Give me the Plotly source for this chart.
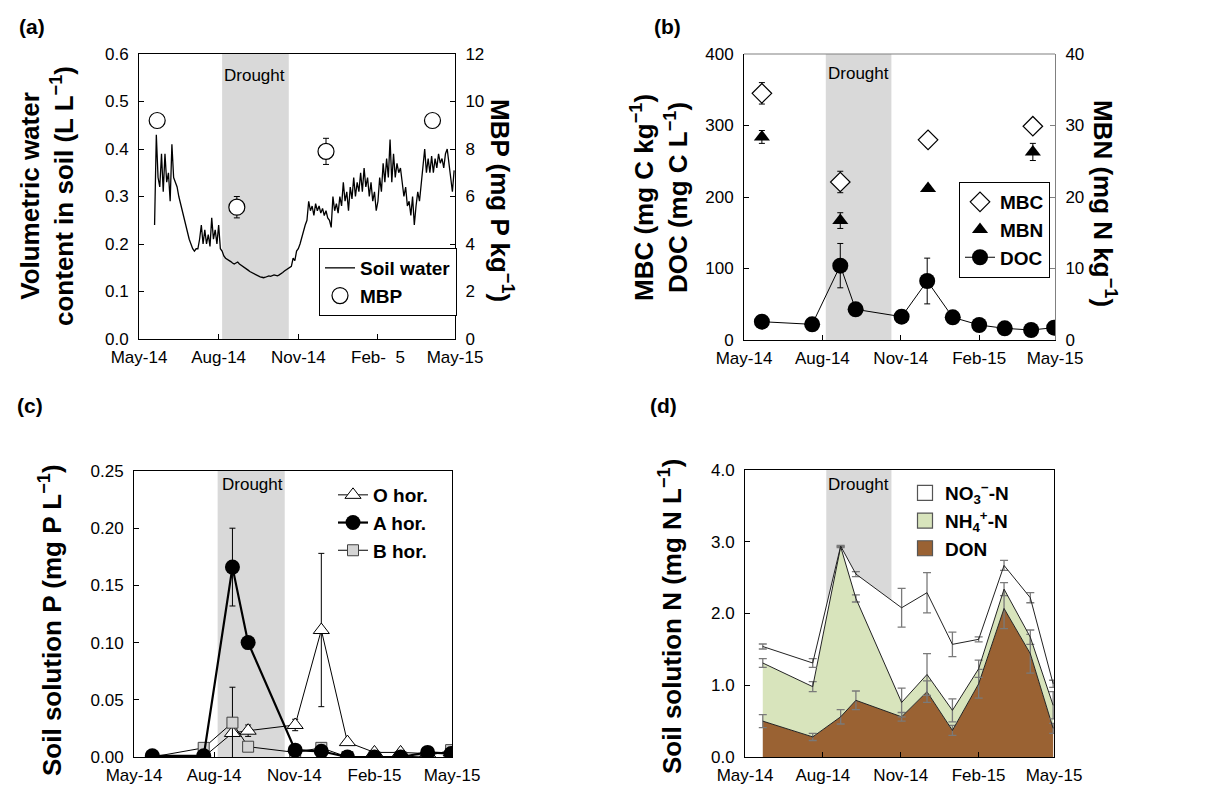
import plotly.graph_objects as go
import pandas as pd
import numpy as np

W, H = 1215, 788
OFF = 8  # page body margin in the browser
FONT = "Liberation Sans, Arial, sans-serif"

# ---------------- data ----------------
x_range = ["2014-05-01", "2015-05-01"]
tick_dates = ["2014-05-01", "2014-08-01", "2014-11-01", "2015-02-01", "2015-05-01"]
tick_text_a = ["May-14", "Aug-14", "Nov-14", "Feb-  5", "May-15"]
tick_text = ["May-14", "Aug-14", "Nov-14", "Feb-15", "May-15"]
drought = ["2014-08-05", "2014-10-21"]

# Panel (a): volumetric soil water content, every 2 days from 19 May 2014
soil_water_start = "2014-05-19"
soil_water = [
    0.24, 0.43, 0.34, 0.32, 0.39, 0.31, 0.39, 0.33, 0.35, 0.29,
    0.41, 0.34, 0.33, 0.32, 0.30, 0.285, 0.27, 0.25, 0.235, 0.22,
    0.21, 0.20, 0.19, 0.185, 0.19, 0.19, 0.21, 0.24, 0.20, 0.23,
    0.20, 0.22, 0.195, 0.255, 0.21, 0.23, 0.20, 0.24, 0.19, 0.185,
    0.175, 0.17, 0.168, 0.165, 0.163, 0.16, 0.158, 0.16, 0.162, 0.158,
    0.155, 0.152, 0.15, 0.147, 0.145, 0.142, 0.14, 0.138, 0.136, 0.134,
    0.132, 0.131, 0.13, 0.129, 0.13, 0.131, 0.133, 0.132, 0.134, 0.135,
    0.134, 0.133, 0.135, 0.137, 0.14, 0.143, 0.146, 0.148, 0.15, 0.153,
    0.17, 0.165, 0.185, 0.19, 0.20, 0.215, 0.23, 0.24, 0.25, 0.29,
    0.27, 0.28, 0.26, 0.285, 0.27, 0.28, 0.265, 0.275, 0.26, 0.27,
    0.255, 0.25, 0.235, 0.30, 0.27, 0.285, 0.265, 0.30, 0.28, 0.33,
    0.29, 0.31, 0.27, 0.32, 0.295, 0.34, 0.30, 0.33, 0.31, 0.35,
    0.31, 0.36, 0.32, 0.34, 0.30, 0.33, 0.29, 0.31, 0.27, 0.29,
    0.34, 0.31, 0.37, 0.33, 0.38, 0.34, 0.42, 0.33, 0.39, 0.34,
    0.37, 0.35, 0.36, 0.33, 0.30, 0.32, 0.28, 0.29, 0.26, 0.30,
    0.24, 0.28, 0.31, 0.29, 0.33, 0.36, 0.40, 0.35, 0.38, 0.35,
    0.385, 0.35, 0.38, 0.36, 0.39, 0.37, 0.38, 0.36, 0.39, 0.40,
    0.37, 0.33, 0.31, 0.355,
]
mb_dates = ["2014-05-22", "2014-08-22", "2014-12-03", "2015-04-05"]
mbp = [9.2, 5.55, 7.9, 9.2]
mbp_err = [0.0, 0.45, 0.55, 0.0]

# Panel (b)
mbc = [345, 221, 280, 299]
mbc_err = [15, 15, 10, 3]
mbn = [28.4, 16.7, 21.2, 26.3]
mbn_err = [0.9, 1.1, 0.4, 1.2]
sample_dates = ["2014-05-22", "2014-07-20", "2014-08-22", "2014-09-09", "2014-11-02",
                "2014-12-02", "2015-01-01", "2015-02-01", "2015-03-03", "2015-04-03",
                "2015-04-30"]
doc = [25.6, 21.9, 104, 42.9, 32.6, 82.5, 31.7, 21, 16.3, 14, 17.2]
doc_err = [0, 0, 31, 0, 0, 32, 0, 0, 0, 0, 0]

# Panel (c)
p_o = [0.000, 0.000, 0.021, 0.023, 0.028, 0.111, 0.013, 0.004, 0.004, 0.003, 0.004]
p_o_err = [0, 0, 0, 0.005, 0.005, 0.067, 0.002, 0, 0, 0, 0]
p_a = [0.001, 0.001, 0.166, 0.100, 0.006, 0.005, 0.000, 0.000, 0.000, 0.004, 0.003]
p_a_err = [0, 0, 0.034, 0, 0, 0, 0, 0, 0, 0, 0]
p_b = [0.000, 0.008, 0.030, 0.009, 0.004, 0.008, 0.000, 0.000, 0.000, 0.001, 0.006]
p_b_err = [0, 0, 0.031, 0, 0, 0, 0, 0, 0, 0, 0]

# Panel (d): components (stacked)
don = [0.50, 0.28, 0.56, 0.79, 0.56, 0.91, 0.37, 1.02, 2.07, 1.44, 0.40]
nh4 = [0.81, 0.70, 2.37, 1.42, 0.20, 0.24, 0.28, 0.21, 0.27, 0.23, 0.32]
no3 = [0.23, 0.33, 0.01, 0.34, 1.32, 1.14, 0.92, 0.41, 0.33, 0.55, 0.30]
don_err = [0.09, 0.05, 0.10, 0.13, 0.06, 0.15, 0.07, 0.20, 0.28, 0.27, 0.07]
nh4_err = [0.06, 0.07, 0.01, 0.05, 0.20, 0.29, 0.16, 0.12, 0.09, 0.10, 0.19]
no3_err = [0.035, 0.06, 0.01, 0.035, 0.27, 0.28, 0.17, 0.035, 0.07, 0.07, 0.05]

DON_COLOR = "#9a6233"
NH4_COLOR = "#d8e4bc"
NO3_COLOR = "white"

# ---------------- helpers ----------------
def px(x):
    return (x - OFF) / W

def py(y):
    return 1 - (y - OFF) / H

def xaxis(x0, x1, anchor, ttext, mirror=True):
    return dict(domain=[px(x0), px(x1)], anchor=anchor, type="date", range=x_range,
                tickmode="array", tickvals=tick_dates, ticktext=ttext,
                ticks="inside", ticklen=5, tickcolor="black", showline=True,
                linecolor="black", linewidth=1, mirror=mirror, showgrid=False,
                zeroline=False, automargin=False, ticklabelstandoff=3,
                tickfont=dict(family=FONT, size=17, color="black"))

def yaxis(y0, y1, anchor, rng, dtick, fmt, side="left", overlaying=None, mirror=True, lc="black"):
    d = dict(domain=[py(y1), py(y0)], anchor=anchor, range=rng, dtick=dtick, tickformat=fmt,
             ticks="inside", ticklen=5, tickcolor=lc, showline=True, linecolor=lc,
             linewidth=1, mirror=mirror, showgrid=False, zeroline=False, side=side,
             ticklabelstandoff=6, automargin=False,
             tickfont=dict(family=FONT, size=17, color="black"))
    if overlaying:
        d["overlaying"] = overlaying
    return d

fig = go.Figure()

# ---------------- panel (a) ----------------
sw_dates = pd.date_range(soil_water_start, periods=len(soil_water), freq="2D")
fig.add_trace(go.Scatter(x=sw_dates, y=soil_water, mode="lines", name="<b>Soil water</b>",
                         line=dict(color="black", width=1.3), xaxis="x", yaxis="y",
                         legend="legend", legendrank=1))
fig.add_trace(go.Scatter(x=mb_dates, y=mbp, mode="markers", name="<b>MBP</b>",
                         marker=dict(symbol="circle", size=16, color="white",
                                     line=dict(color="black", width=1.2)),
                         error_y=dict(type="data", array=mbp_err, color="black",
                                      thickness=1, width=3),
                         xaxis="x", yaxis="y2", legend="legend", legendrank=2))

# ---------------- panel (b) ----------------
fig.add_trace(go.Scatter(x=mb_dates, y=mbc, mode="markers", name="<b>MBC</b>",
                         marker=dict(symbol="diamond", size=15, color="white",
                                     line=dict(color="black", width=1.2)),
                         error_y=dict(type="data", array=mbc_err, color="black",
                                      thickness=1, width=3),
                         xaxis="x2", yaxis="y3", legend="legend2", legendrank=1))
fig.add_trace(go.Scatter(x=mb_dates, y=mbn, mode="markers", name="<b>MBN</b>",
                         marker=dict(symbol="triangle-up", size=14, color="black"),
                         error_y=dict(type="data", array=mbn_err, color="black",
                                      thickness=1, width=3),
                         xaxis="x2", yaxis="y4", legend="legend2", legendrank=2))
fig.add_trace(go.Scatter(x=sample_dates, y=doc, mode="lines+markers", name="<b>DOC</b>",
                         line=dict(color="black", width=1),
                         marker=dict(symbol="circle", size=16, color="black"),
                         error_y=dict(type="data", array=doc_err, color="black",
                                      thickness=1, width=3),
                         xaxis="x2", yaxis="y3", legend="legend2", legendrank=3))

# ---------------- panel (c) ----------------
fig.add_trace(go.Scatter(x=sample_dates, y=p_o, mode="lines+markers", name="<b>O hor.</b>",
                         line=dict(color="black", width=1),
                         marker=dict(symbol="triangle-up", size=14, color="white",
                                     line=dict(color="black", width=1)),
                         error_y=dict(type="data", array=p_o_err, color="black",
                                      thickness=1, width=3),
                         xaxis="x3", yaxis="y5", legend="legend3", legendrank=1))
fig.add_trace(go.Scatter(x=sample_dates, y=p_b, mode="lines+markers", name="<b>B hor.</b>",
                         line=dict(color="black", width=1),
                         marker=dict(symbol="square", size=11, color="#d4d4d4",
                                     line=dict(color="#404040", width=1)),
                         error_y=dict(type="data", array=p_b_err, color="black",
                                      thickness=1, width=3),
                         xaxis="x3", yaxis="y5", legend="legend3", legendrank=3))
fig.add_trace(go.Scatter(x=sample_dates, y=p_a, mode="lines+markers", name="<b>A hor.</b>",
                         line=dict(color="black", width=2.2),
                         marker=dict(symbol="circle", size=15, color="black"),
                         error_y=dict(type="data", array=p_a_err, color="black",
                                      thickness=1, width=3),
                         xaxis="x3", yaxis="y5", legend="legend3", legendrank=2))

# ---------------- panel (d) ----------------
c_don = np.array(don)
c_nh4 = c_don + np.array(nh4)
c_tot = c_nh4 + np.array(no3)
err_style = dict(type="data", color="#7a7a7a", thickness=1.3, width=4)
fig.add_trace(go.Scatter(x=sample_dates, y=c_don, mode="lines", showlegend=False,
                         fill="tozeroy", fillcolor=DON_COLOR,
                         line=dict(color="#222222", width=1),
                         error_y=dict(array=don_err, **err_style),
                         xaxis="x4", yaxis="y6"))
fig.add_trace(go.Scatter(x=sample_dates, y=c_nh4, mode="lines", showlegend=False,
                         fill="tonexty", fillcolor=NH4_COLOR,
                         line=dict(color="#222222", width=1),
                         error_y=dict(array=nh4_err, **err_style),
                         xaxis="x4", yaxis="y6"))
fig.add_trace(go.Scatter(x=sample_dates, y=c_tot, mode="lines", showlegend=False,
                         fill="tonexty", fillcolor=NO3_COLOR,
                         line=dict(color="#222222", width=1),
                         error_y=dict(array=no3_err, **err_style),
                         xaxis="x4", yaxis="y6"))
# legend-only swatches for panel (d)
for rank, (nm, col) in enumerate([("<b>NO<sub>3</sub><sup>−</sup>-N</b>", NO3_COLOR),
                                  ("<b>NH<sub>4</sub><sup>+</sup>-N</b>", NH4_COLOR),
                                  ("<b>DON</b>", DON_COLOR)], start=1):
    fig.add_trace(go.Scatter(x=[None], y=[None], mode="markers", name=nm,
                             marker=dict(symbol="square", size=15, color=col,
                                         line=dict(color="#555555", width=1.2)),
                             xaxis="x4", yaxis="y6", legend="legend4", legendrank=rank))

# ---------------- shapes ----------------
shapes = []
for xr, yr in [("x", "y"), ("x2", "y3"), ("x3", "y5"), ("x4", "y6")]:
    shapes.append(dict(type="rect", xref=xr, yref=yr + " domain", x0=drought[0], x1=drought[1],
                       y0=0, y1=1, fillcolor="#d9d9d9", line=dict(width=0), layer="below"))
# grey top border of panel (b)
shapes.append(dict(type="line", xref="x2 domain", yref="y3 domain", x0=0, x1=1, y0=1, y1=1,
                   line=dict(color="#808080", width=1.2)))

# ---------------- annotations ----------------
def ann(text, x, y, size, bold=False, angle=0, color="black"):
    return dict(text=text, x=px(x), y=py(y), xref="paper", yref="paper", showarrow=False,
                textangle=angle, xanchor="center", yanchor="middle",
                font=dict(family=FONT, size=size, color=color, weight="bold" if bold else "normal"))

annotations = [
    ann("(a)", 32, 26, 21, True),
    ann("(b)", 667, 26, 21, True),
    ann("(c)", 30, 405, 21, True),
    ann("(d)", 663, 405, 21, True),
    ann("Drought", 254, 75, 17),
    ann("Drought", 858, 73, 17),
    ann("Drought", 252, 485, 17),
    ann("Drought", 858, 485, 17),
    ann("Volumetric water<br>content in soil (L L<sup>−1</sup>)", 47, 196, 26, True, -90),
    ann("MBP (mg P kg<sup>−1</sup>)", 502, 200, 26, True, 90),
    ann("MBC (mg C kg<sup>−1</sup>)<br>DOC (mg C L<sup>−1</sup>)", 659, 198, 26, True, -90),
    ann("MBN (mg N kg<sup>−1</sup>)", 1104, 203, 26, True, 90),
    ann("Soil solution P (mg P L<sup>−1</sup>)", 50, 620, 26, True, -90),
    ann("Soil solution N (mg N L<sup>−1</sup>)", 670, 617, 26, True, -90),
]

leg_font = dict(family=FONT, size=19, color="black")

fig.update_layout(
    width=W, height=H, margin=dict(l=0, r=0, t=0, b=0, autoexpand=False),
    paper_bgcolor="white", plot_bgcolor="rgba(0,0,0,0)",
    font=dict(family=FONT, color="black"),
    xaxis=xaxis(139, 455, "y", tick_text_a),
    yaxis=yaxis(54, 339, "x", [0, 0.6], 0.1, ".1f"),
    yaxis2=yaxis(54, 339, "x", [0, 12], 2, "d", side="right", overlaying="y", mirror=False),
    xaxis2=xaxis(744, 1055, "y3", tick_text, mirror=False),
    yaxis3=yaxis(54, 340, "x2", [0, 400], 100, "d", mirror=False),
    yaxis4=yaxis(54, 340, "x2", [0, 40], 10, "d", side="right", overlaying="y3",
                 mirror=False, lc="#808080"),
    xaxis3=xaxis(134, 452, "y5", tick_text),
    yaxis5=yaxis(471, 757, "x3", [0, 0.25], 0.05, ".2f"),
    xaxis4=xaxis(745, 1054, "y6", tick_text),
    yaxis6=yaxis(470, 757, "x4", [0, 4], 1, ".1f"),
    shapes=shapes,
    annotations=annotations,
    legend=dict(x=px(319), y=py(248), xanchor="left", yanchor="top", bgcolor="white",
                bordercolor="black", borderwidth=1, font=leg_font, itemwidth=30,
                tracegroupgap=2, traceorder="normal"),
    legend2=dict(x=px(959), y=py(182), xanchor="left", yanchor="top", bgcolor="white",
                 bordercolor="black", borderwidth=1, font=leg_font, itemwidth=30,
                 traceorder="normal"),
    legend3=dict(x=px(333), y=py(476), xanchor="left", yanchor="top", bgcolor="rgba(0,0,0,0)",
                 borderwidth=0, font=leg_font, itemwidth=30, traceorder="normal"),
    legend4=dict(x=px(905), y=py(474), xanchor="left", yanchor="top", bgcolor="rgba(0,0,0,0)",
                 borderwidth=0, font=leg_font, itemwidth=30, traceorder="normal"),
    showlegend=True,
)

fig.write_html("out.html")
